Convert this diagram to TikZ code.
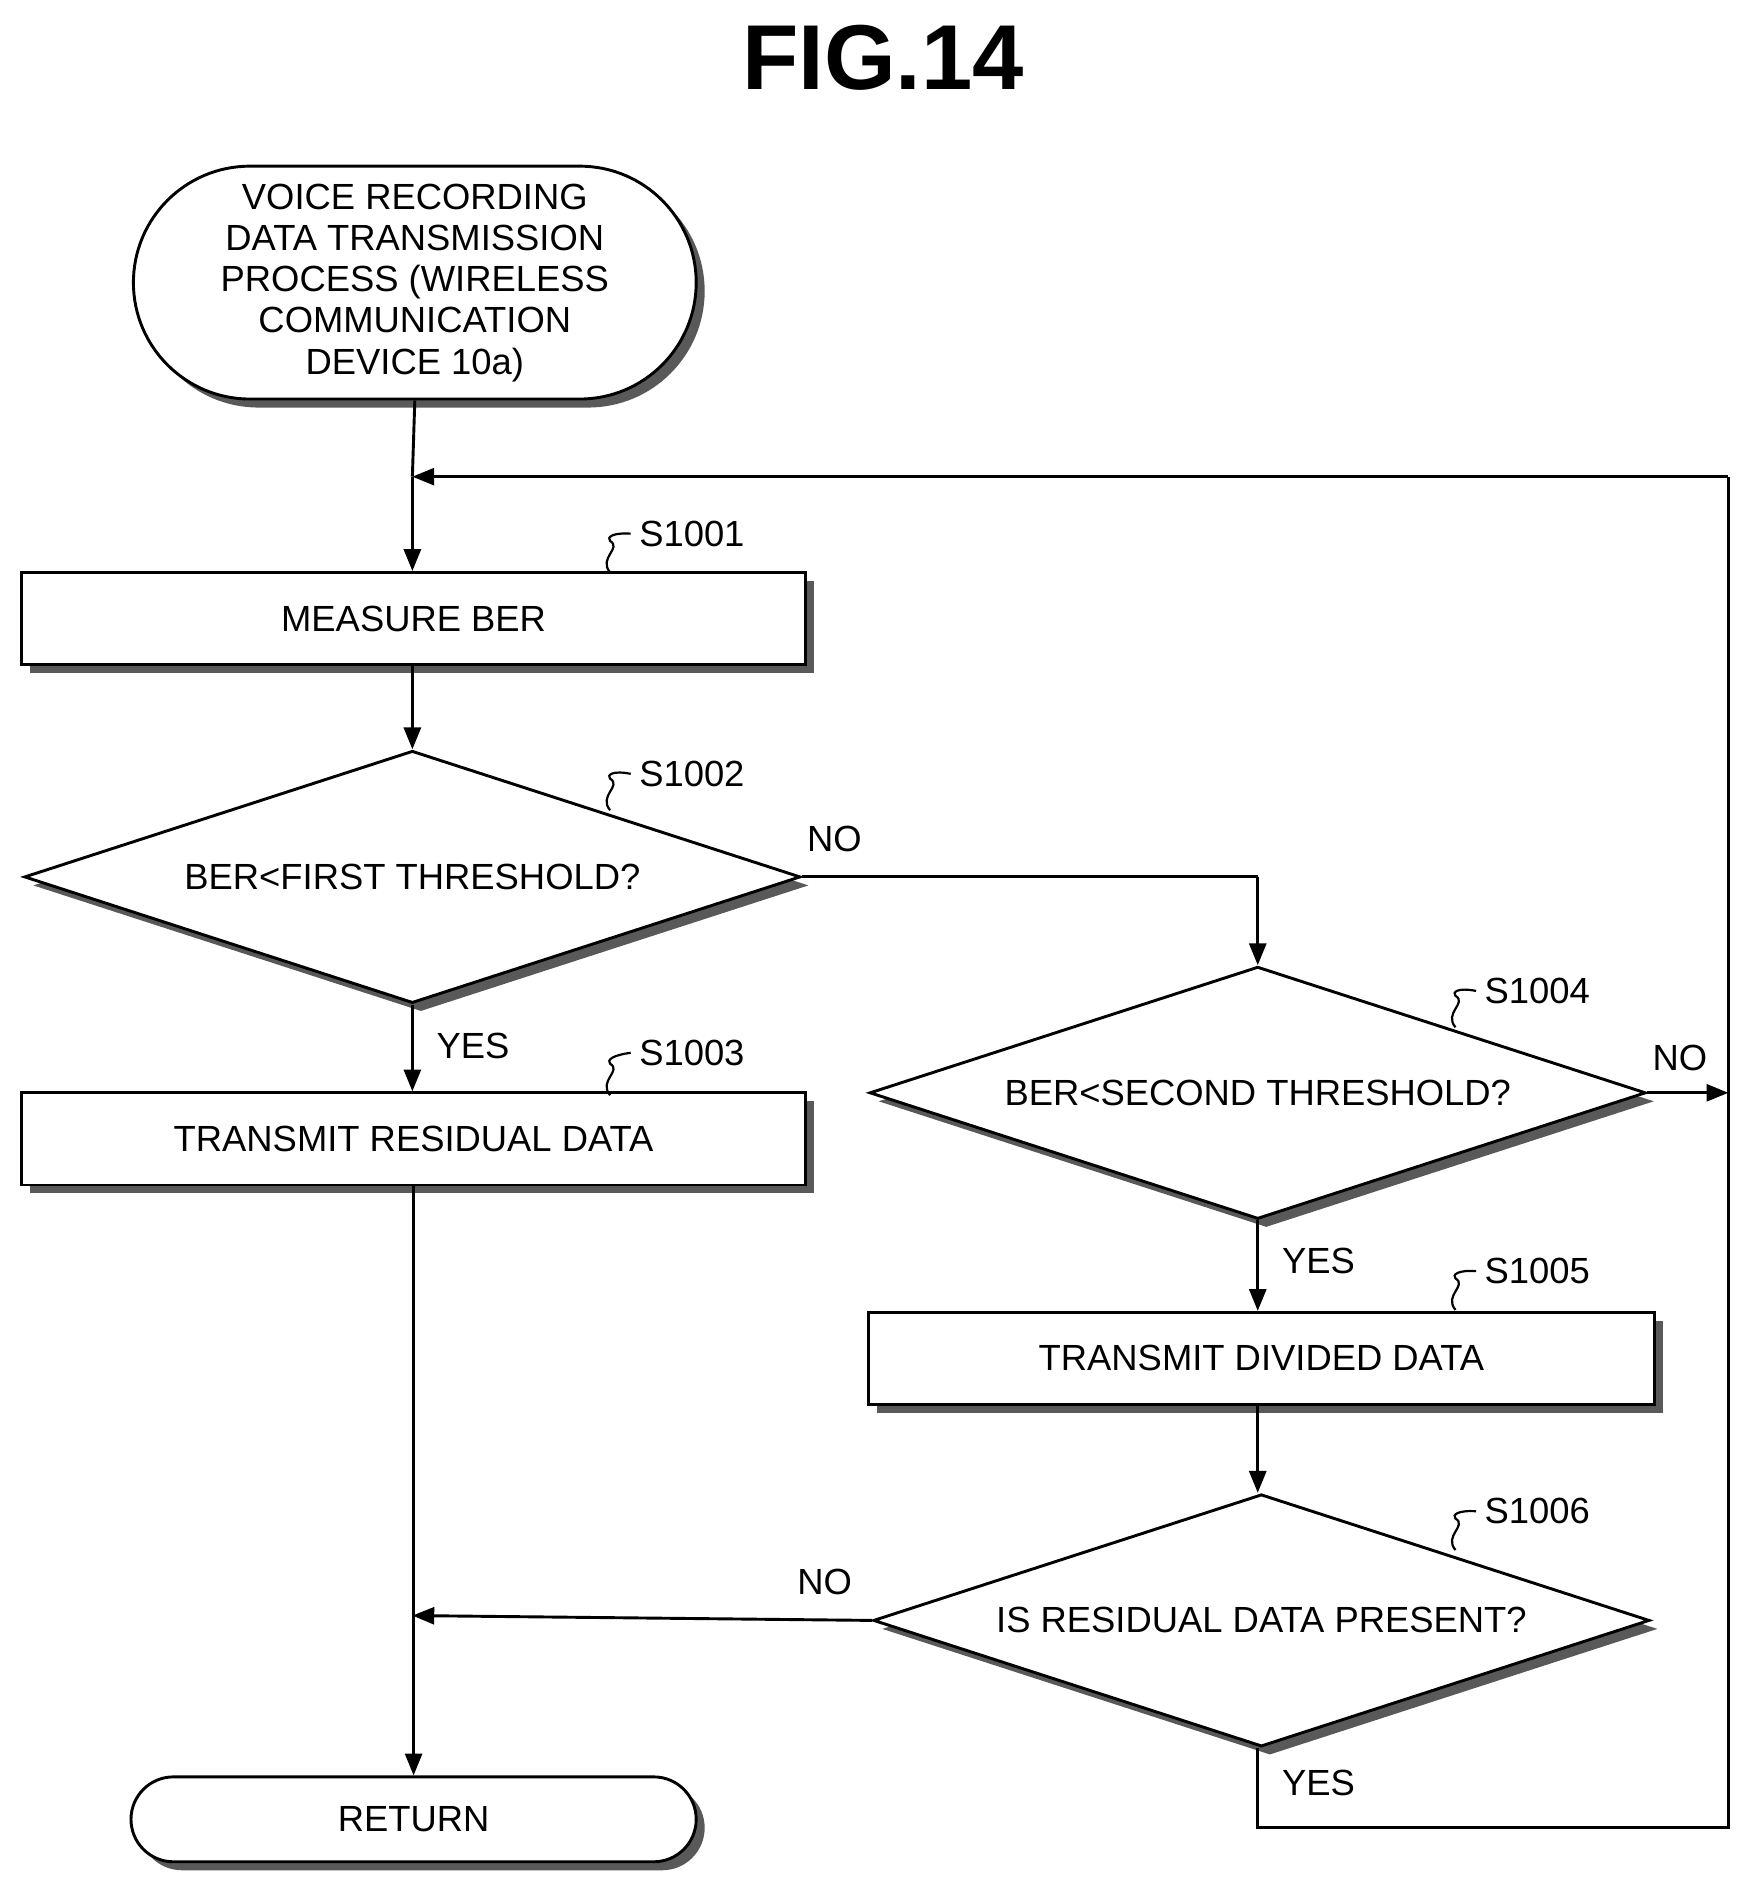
\documentclass[tikz,border=0pt]{standalone}
\usepackage{fontspec}
\setmainfont{Liberation Sans}
\usetikzlibrary{shapes.geometric,shapes.misc,shadows,arrows.meta}
\begin{document}
\begin{tikzpicture}[x=0.5pt,y=-0.5pt,
  sh/.style={drop shadow={shadow xshift=3.5pt,shadow yshift=-3.5pt,fill=black!65,opacity=1}},
  box/.style={draw,line width=1.2pt,fill=white,sh,minimum width=323pt,minimum height=38pt,inner sep=0pt,font=\fontsize{15}{18}\selectfont},
  dia/.style={draw,line width=1.2pt,fill=white,sh,diamond,aspect=3.08,minimum width=320pt,minimum height=104pt,inner sep=0pt,font=\fontsize{15}{18}\selectfont},
  term/.style={draw,line width=1.2pt,fill=white,sh,rounded rectangle,inner sep=0pt,font=\fontsize{15}{17}\selectfont,align=center},
  lab/.style={font=\fontsize{15}{18}\selectfont},
  arr/.style={line width=1.2pt,-{Triangle[length=9pt,width=7pt]}},
  ln/.style={line width=1.2pt},
  sq/.style={line width=0.9pt}]
\useasboundingbox (0,0) rectangle (1450,1569);
\node[font=\fontsize{38}{40}\selectfont\bfseries] (title) at (728,48) {FIG.14};
\node[term,minimum width=232pt,minimum height=96pt] (start) at (342,233) {VOICE RECORDING\\DATA TRANSMISSION\\PROCESS (WIRELESS\\COMMUNICATION\\DEVICE 10a)};
\node[box] (s1) at (341,510) {MEASURE BER};
\node[dia] (d1) at (340,723) {BER<FIRST THRESHOLD?};
\node[box] (s3) at (341,939) {TRANSMIT RESIDUAL DATA};
\node[dia] (d2) at (1037,901) {BER<SECOND THRESHOLD?};
\node[box,minimum width=324pt] (s5) at (1040,1120) {TRANSMIT DIVIDED DATA};
\node[dia] (d3) at (1040,1336) {IS RESIDUAL DATA PRESENT?};
\node[term,minimum width=233pt,minimum height=35pt] (ret) at (341,1500) {RETURN};
% step labels
\node[lab,anchor=west] (l1) at (520,440) {S1001};
\node[lab,anchor=west] (l2) at (520,638) {S1002};
\node[lab,anchor=west] (l3) at (520,868) {S1003};
\node[lab,anchor=west] (l4) at (1217,817) {S1004};
\node[lab,anchor=west] (l5) at (1217,1048) {S1005};
\node[lab,anchor=west] (l6) at (1217,1246) {S1006};
\foreach \l/\x/\y in {l1/503/472,l2/503/668,l3/503/903,l4/1200/847,l5/1200/1080,l6/1200/1278}{
  \draw[sq] (\x,\y) .. controls (\x-10,\y-12) and (\x+10,\y-20) .. (\x,\y-26) .. controls (\x-3,\y-29) and (\x+2,\y-33) .. (\l.west);
}
% yes/no
\node[lab] (n1) at (688,692) {NO};
\node[lab] (y1) at (390,862) {YES};
\node[lab] (n2) at (1385,872) {NO};
\node[lab] (y2) at (1087,1040) {YES};
\node[lab] (n3) at (680,1304) {NO};
\node[lab] (y3) at (1087,1470) {YES};
\coordinate (loopin) at (340,393);
\coordinate (rt) at (1425,393);
\coordinate (rb) at (1425,1507);
\coordinate (jb) at (1037,1507);
\coordinate (j1) at (1037,723);
\coordinate (n2e) at (1425,901);
\coordinate (n3e) at (340,1332);
% connectors
\draw[ln] (start.south) -- (loopin);
\draw[arr] (loopin) -- (s1.north -| loopin);
\draw[arr] (s1.south -| d1.north) -- (d1.north);
\draw[arr] (d1.south) -- (s3.north -| d1.south);
\draw[ln] (d1.east) -- (j1);
\draw[arr] (j1) -- (d2.north);
\draw[arr] (d2.east) -- (n2e);
\draw[arr] (d2.south) -- (s5.north -| d2.south);
\draw[arr] (s5.south -| d2.south) -- (d3.north -| d2.south);
\draw[arr] (d3.west) -- (n3e);
\draw[arr] (s3.south -| ret.north) -- (ret.north);
\draw[ln] (d3.south -| jb) -- (jb) -- (rb) -- (rt);
\draw[arr] (rt) -- (loopin);
\end{tikzpicture}
\end{document}
